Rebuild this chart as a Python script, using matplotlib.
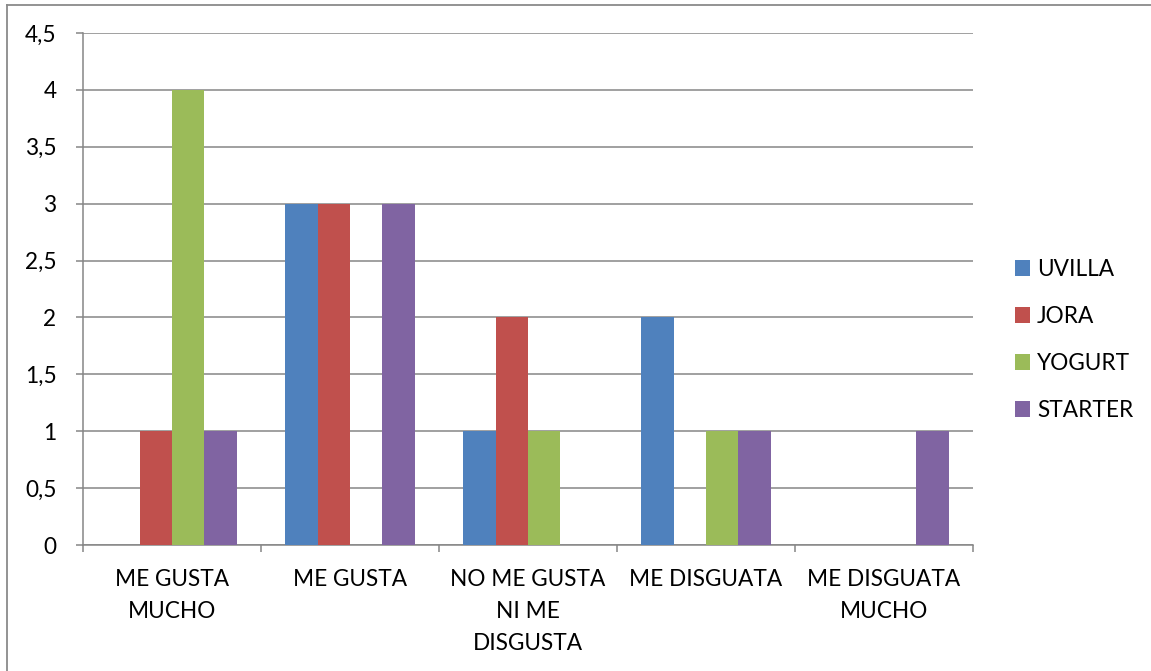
import numpy as np
import matplotlib
matplotlib.use('Agg')
import matplotlib.pyplot as plt
from matplotlib.lines import Line2D

plt.rcParams['font.family'] = ['Lato', 'DejaVu Sans']

categories = ['ME GUSTA\nMUCHO', 'ME GUSTA', 'NO ME GUSTA\nNI ME\nDISGUSTA',
              'ME DISGUATA', 'ME DISGUATA\nMUCHO']
series = ['UVILLA', 'JORA', 'YOGURT', 'STARTER']
uvilla = [0, 3, 1, 2, 0]
jora = [1, 3, 2, 0, 0]
yogurt = [4, 0, 1, 1, 0]
starter = [1, 3, 0, 1, 1]
colors = ['#4F81BD', '#C0504D', '#9BBB59', '#8064A2']
yticks = [0, 0.5, 1, 1.5, 2, 2.5, 3, 3.5, 4, 4.5]

W, H = 1151, 671
fs = 16.3
fig = plt.figure(figsize=(W / 100, H / 100), dpi=100)
# chart frame: only the left and top edges fall inside the image
fig.lines.append(Line2D([6.5 / W, 6.5 / W], [0, (H - 4.5) / H], transform=fig.transFigure,
                        color='#8a8a8a', linewidth=1.3))
fig.lines.append(Line2D([6.5 / W, 1], [(H - 4.5) / H, (H - 4.5) / H], transform=fig.transFigure,
                        color='#8a8a8a', linewidth=1.3))

ax = fig.add_axes([83 / W, (H - 545) / H, (973 - 83) / W, (545 - 33) / H])

x = np.arange(len(categories))
w = 1 / 5.5
for i, vals in enumerate([uvilla, jora, yogurt, starter]):
    ax.bar(x + (i - 1.5) * w, vals, w, color=colors[i], label=series[i], zorder=3)

ax.set_xlim(-0.5, len(categories) - 0.5)
ax.set_ylim(0, 4.5)
ax.set_yticks(yticks)
ax.set_yticklabels([('%g' % t).replace('.', ',') for t in yticks])
ax.yaxis.grid(True, color='#868686', linewidth=1.1, zorder=0)

ax.set_xticks(x)
ax.set_xticklabels(categories, linespacing=1.65, va='top')
ax.set_xticks(np.arange(len(categories) + 1) - 0.5, minor=True)
ax.tick_params(axis='x', which='major', length=0, pad=17, labelsize=fs)
ax.tick_params(axis='x', which='minor', length=5, color='#868686', width=1.1)
ax.tick_params(axis='y', length=5, color='#868686', width=1.1, pad=14, labelsize=fs)

for s in ['top', 'right']:
    ax.spines[s].set_visible(False)
for s in ['left', 'bottom']:
    ax.spines[s].set_color('#868686')
    ax.spines[s].set_linewidth(1.1)

fig.legend(loc='center left', bbox_to_anchor=(1015 / W, (H - 340) / H), frameon=False,
           fontsize=fs, handlelength=0.68, handleheight=0.68, handletextpad=0.3,
           labelspacing=1.15, borderpad=0, borderaxespad=0)

fig.savefig('out.png', dpi=100)
